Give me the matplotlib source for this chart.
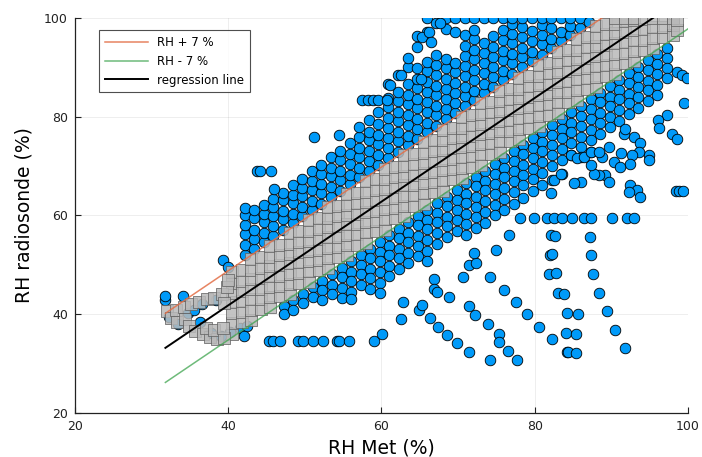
import numpy as np
import matplotlib
matplotlib.use("Agg")
import matplotlib.pyplot as plt

# regression (RH radiosonde = slope * RH Met + intercept)
reg_slope = 1.05
reg_intercept = -0.2
band = 7
line_x = np.array([31.8, 100.0])

# points inside the +/- 7 % band (grey squares), one list of y per x column
band_cols_x = [40.5, 41.8, 43.0, 44.3, 45.5, 46.8, 48.0, 49.3, 50.5, 51.8, 53.0, 54.3,
               55.5, 56.8, 58.0, 59.3, 60.5, 61.8, 63.0, 64.3, 65.5, 66.8, 68.0, 69.3,
               70.5, 71.8, 73.0, 74.3, 75.5, 76.8, 78.0, 79.3, 80.5, 81.8, 83.0, 84.3,
               85.5, 86.8, 88.0, 89.3, 90.5, 91.8, 93.0, 94.3, 95.5, 96.8, 98.0, 98.6]
band_cols_y = [
    [36.1, 38.2, 40.3, 42.4, 44.4, 46.3, 48.5],
    [38.4, 40.5, 42.6, 44.7, 46.8, 48.9],
    [38.8, 40.9, 43.0, 45.1, 47.1, 49.0, 51.2],
    [41.0, 43.1, 45.2, 47.3, 49.4, 51.5],
    [41.4, 43.5, 45.6, 47.7, 49.7, 51.6, 53.8],
    [43.6, 45.7, 47.8, 49.9, 52.0, 54.1],
    [44.0, 46.1, 48.2, 50.3, 52.3, 54.2, 56.4],
    [46.3, 48.4, 50.5, 52.6, 54.7, 56.8],
    [46.6, 48.7, 50.8, 52.9, 54.9, 56.8, 59.0],
    [48.9, 51.0, 53.1, 55.2, 57.3, 59.4],
    [49.3, 51.4, 53.5, 55.6, 57.6, 59.5, 61.7],
    [51.5, 53.6, 55.7, 57.8, 59.9, 62.0],
    [51.9, 54.0, 56.1, 58.2, 60.2, 62.1, 64.3],
    [54.1, 56.2, 58.3, 60.4, 62.5, 64.6],
    [54.5, 56.6, 58.7, 60.8, 62.8, 64.7, 66.9],
    [56.8, 58.9, 61.0, 63.1, 65.2, 67.3],
    [57.1, 59.2, 61.3, 63.4, 65.4, 67.3, 69.5],
    [59.4, 61.5, 63.6, 65.7, 67.8, 69.9],
    [59.8, 61.9, 64.0, 66.1, 68.1, 70.0, 72.2],
    [62.0, 64.1, 66.2, 68.3, 70.4, 72.5],
    [62.4, 64.5, 66.6, 68.7, 70.7, 72.6, 74.8],
    [64.7, 66.8, 68.9, 71.0, 73.1, 75.2],
    [65.0, 67.1, 69.2, 71.3, 73.3, 75.2, 77.4],
    [67.3, 69.4, 71.5, 73.6, 75.7, 77.8],
    [67.6, 69.7, 71.8, 73.9, 75.9, 77.8, 80.0],
    [69.9, 72.0, 74.1, 76.2, 78.3, 80.4],
    [70.3, 72.4, 74.5, 76.6, 78.6, 80.5, 82.7],
    [72.5, 74.6, 76.7, 78.8, 80.9, 83.0],
    [72.9, 75.0, 77.1, 79.2, 81.2, 83.1, 85.3],
    [75.1, 77.2, 79.3, 81.4, 83.5, 85.6],
    [75.5, 77.6, 79.7, 81.8, 83.8, 85.7, 87.9],
    [77.8, 79.9, 82.0, 84.1, 86.2, 88.3],
    [78.1, 80.2, 82.3, 84.4, 86.4, 88.3, 90.5],
    [80.4, 82.5, 84.6, 86.7, 88.8, 90.9],
    [80.8, 82.9, 85.0, 87.1, 89.1, 91.0, 93.2],
    [83.0, 85.1, 87.2, 89.3, 91.4, 93.5],
    [83.4, 85.5, 87.6, 89.7, 91.7, 93.6, 95.8],
    [85.7, 87.8, 89.9, 92.0, 94.1, 96.2],
    [86.0, 88.1, 90.2, 92.3, 94.3, 96.2, 98.4],
    [88.3, 90.4, 92.5, 94.6, 96.7, 98.8],
    [88.6, 90.7, 92.8, 94.9, 96.9, 98.8, 100.0],
    [90.9, 93.0, 95.1, 97.2, 99.3, 100.0],
    [91.3, 93.4, 95.5, 97.6, 99.6, 100.0],
    [93.5, 95.6, 97.7, 99.8],
    [93.9, 96.0, 98.1, 100.0],
    [96.1, 98.2, 100.0],
    [96.5, 98.6, 100.0],
    [97.6, 99.5],
]

# the loop of low values at the left end of the band
loop_squares = [(32.0, 40.6), (32.5, 39.2), (33.2, 40.9), (33.3, 38.4), (34.2, 41.4),
                (34.4, 39.0), (34.9, 37.6), (35.2, 42.0), (35.7, 36.6), (36.2, 42.5),
                (36.7, 35.9), (37.2, 43.0), (37.6, 35.3), (37.1, 37.3), (38.2, 43.3),
                (38.6, 34.9), (38.2, 36.8), (39.2, 44.0), (39.5, 35.1), (39.3, 37.2),
                (39.8, 45.6), (39.4, 42.2), (40.0, 47.0)]
loop_circles = [(32.3, 39.5), (33.5, 38.0), (34.8, 40.2), (35.5, 40.9), (36.3, 38.5),
                (37.8, 36.2), (39.0, 35.6), (40.2, 36.5), (41.5, 37.3), (42.4, 37.6),
                (42.0, 35.6), (36.6, 42.0), (38.4, 42.9)]

# dense cloud above the band
upper_cols_x = [42.2, 43.4, 44.7, 45.9, 47.1, 48.4, 49.6, 50.9, 52.1, 53.4, 54.6, 55.9,
                57.1, 58.4, 59.6, 60.9, 62.1, 63.4, 64.6, 65.9, 67.1, 68.4, 69.6, 70.9,
                72.1, 73.4, 74.6, 75.9, 77.1, 78.4, 79.6, 80.9, 82.1, 83.4, 84.6, 85.9, 87.1]
upper_cols_y = [
    [52.0, 54.1, 56.2, 58.0, 60.1, 61.5],
    [53.2, 55.3, 57.1, 59.4, 61.2],
    [54.6, 56.5, 58.6, 60.4, 62.2],
    [55.8, 57.9, 59.8, 61.7, 63.3],
    [57.1, 59.2, 61.0, 63.1, 64.6],
    [58.5, 60.4, 62.6, 64.2, 66.1],
    [59.8, 61.7, 63.9, 65.6, 67.4],
    [61.1, 63.0, 65.2, 67.0, 69.1],
    [62.4, 64.5, 66.3, 68.4, 70.2],
    [63.8, 65.7, 67.9, 69.6, 71.8],
    [65.0, 67.1, 69.0, 71.2, 73.0],
    [66.4, 68.3, 70.5, 72.4, 74.6],
    [67.7, 69.6, 71.8, 73.7, 75.9, 77.9],
    [69.0, 71.1, 73.0, 75.2, 77.0, 79.3],
    [70.3, 72.2, 74.4, 76.3, 78.5, 80.9],
    [71.6, 73.7, 75.6, 77.8, 79.7, 81.9, 83.7, 86.6],
    [72.9, 75.0, 76.9, 79.1, 81.0, 83.2, 85.1, 88.4],
    [74.3, 76.2, 78.4, 80.3, 82.5, 84.4, 86.6, 90.1, 92.0],
    [75.5, 77.6, 79.5, 81.7, 83.6, 85.8, 87.7, 89.9, 94.2, 96.4],
    [76.9, 78.8, 81.0, 82.9, 85.1, 87.0, 89.2, 91.1, 97.2, 99.9],
    [78.2, 80.3, 82.2, 84.4, 86.3, 88.5, 90.4, 92.6, 98.9],
    [79.5, 81.6, 83.5, 85.7, 87.6, 89.8, 91.7, 97.8, 100.0],
    [80.8, 82.7, 84.9, 86.8, 89.0, 90.9, 97.2, 100.0],
    [82.1, 84.2, 86.1, 88.3, 90.2, 92.4, 94.3, 96.5, 100.0],
    [83.4, 85.3, 87.5, 89.4, 91.6, 93.5, 95.7, 97.6, 100.0],
    [84.8, 86.7, 88.9, 90.8, 93.0, 94.9, 100.0],
    [86.0, 88.1, 90.0, 92.2, 94.1, 96.3, 100.0],
    [87.4, 89.3, 91.5, 93.4, 95.6, 97.5, 100.0],
    [88.7, 90.8, 92.7, 94.9, 96.8, 98.7, 100.0],
    [90.0, 92.1, 94.0, 96.2, 98.1, 100.0],
    [91.3, 93.2, 95.4, 97.3, 100.0],
    [92.6, 94.7, 96.6, 98.6, 100.0],
    [93.9, 95.8, 98.0, 100.0],
    [95.3, 97.2, 100.0],
    [96.5, 98.4, 100.0],
    [97.9, 100.0],
    [99.2],
]

# dense cloud below the band
lower_cols_x = [47.3, 48.5, 49.8, 51.0, 52.3, 53.5, 54.8, 56.0, 57.3, 58.5, 59.8, 61.0,
                62.3, 63.5, 64.8, 66.0, 67.3, 68.5, 69.8, 71.0, 72.3, 73.5, 74.8, 76.0,
                77.3, 78.5, 79.8, 81.0, 82.3, 83.5, 84.8, 86.0, 87.3, 88.5, 89.8, 91.0,
                92.3, 93.5, 94.8, 96.0, 97.2]
lower_cols_y = [
    [41.6, 40.1],
    [42.8, 40.8],
    [44.2, 42.3],
    [45.5, 43.4],
    [46.8, 44.9, 42.9],
    [48.1, 46.0, 44.0],
    [49.4, 47.5, 45.4, 43.3],
    [50.7, 48.6, 46.7, 44.6, 43.0],
    [52.1, 50.0, 48.1, 45.9],
    [53.3, 51.4, 49.2, 47.3, 45.2],
    [54.7, 52.6, 50.7, 48.5, 46.4, 44.3],
    [56.0, 53.9, 52.0, 49.8, 47.7],
    [57.3, 55.4, 53.2, 51.3, 49.1],
    [58.6, 56.5, 54.6, 52.4, 50.3],
    [59.9, 58.0, 55.8, 53.9, 51.7],
    [61.2, 59.1, 57.2, 55.0, 52.9, 50.8],
    [62.6, 60.5, 58.6, 56.4, 54.3],
    [63.8, 61.9, 59.7, 57.8, 55.6],
    [65.2, 63.1, 61.2, 59.0, 56.9],
    [66.5, 64.4, 62.5, 60.3, 58.2, 56.0],
    [67.8, 65.9, 63.7, 61.8, 59.6, 57.5],
    [69.1, 67.0, 65.1, 62.9, 60.8, 58.5],
    [70.4, 68.5, 66.3, 64.4, 62.2, 60.1],
    [71.7, 69.6, 67.7, 65.5, 63.4, 61.2],
    [73.1, 71.0, 69.1, 66.9, 64.8, 62.4],
    [74.3, 72.4, 70.2, 68.3, 66.1, 63.6],
    [75.7, 73.6, 71.7, 69.5, 67.4, 65.0],
    [77.0, 74.9, 73.0, 70.8, 68.7, 66.2],
    [78.3, 76.4, 74.2, 72.3, 70.1, 67.2],
    [79.6, 77.5, 75.6, 73.4, 71.3, 68.5],
    [80.9, 78.8, 76.9, 74.7, 72.2],
    [82.2, 80.1, 78.2, 76.0, 73.9, 71.9],
    [83.6, 81.5, 79.6, 77.4, 75.3, 72.9],
    [84.8, 82.9, 80.7, 78.8, 76.6],
    [86.2, 84.1, 82.2, 80.0, 77.9],
    [87.5, 85.4, 83.5, 81.3, 79.2],
    [88.8, 86.9, 84.7, 82.8, 80.6],
    [90.1, 88.0, 86.1, 83.9, 81.8],
    [91.4, 89.5, 87.3, 85.4, 83.2],
    [92.7, 90.6, 88.7, 86.5, 84.4],
    [94.0, 91.9, 89.9, 87.8],
]

# scattered outliers
outliers_left = [(31.8, 42.9), (31.8, 43.6), (34.1, 43.7), (39.3, 51.0), (40.0, 49.6),
                 (43.8, 69.0), (44.2, 69.0), (45.6, 69.0), (46.0, 65.3), (51.2, 75.9),
                 (54.5, 76.3), (57.5, 83.4), (58.2, 83.4), (58.9, 83.4), (59.6, 83.4),
                 (60.7, 83.4), (61.1, 86.4), (62.5, 88.4), (65.1, 87.7), (65.3, 96.2),
                 (66.2, 97.2), (66.4, 95.2), (67.7, 98.9)]
outliers_low = [(45.3, 34.6), (45.9, 34.6), (46.8, 34.6), (49.1, 34.6), (49.8, 34.6),
                (51.1, 34.6), (52.4, 34.6), (54.2, 34.6), (54.5, 34.6), (55.8, 34.6),
                (59.0, 34.6), (60.1, 36.1), (62.5, 39.0), (62.8, 42.5), (64.9, 40.9),
                (65.3, 41.9), (66.3, 39.2), (66.9, 47.1), (66.9, 45.2), (67.3, 44.6),
                (67.4, 37.5), (68.5, 35.8), (68.8, 43.4), (69.8, 34.1), (70.7, 47.5),
                (71.4, 41.7), (71.4, 32.4), (71.4, 50.0), (72.4, 50.3), (72.1, 52.4),
                (72.2, 39.8), (73.9, 38.0), (74.1, 47.6), (74.1, 30.7), (74.9, 53.1),
                (75.4, 36.1), (75.4, 34.4), (76.0, 45.0), (76.5, 32.6), (76.7, 56.0),
                (77.6, 42.5), (77.7, 30.7), (79.0, 40.0), (80.6, 37.5), (81.8, 48.1),
                (82.0, 52.1), (82.3, 52.2), (82.2, 35.0), (82.1, 56.0), (82.6, 55.9),
                (82.8, 48.3), (83.1, 44.4), (83.8, 44.1), (84.2, 40.3), (84.1, 36.3),
                (84.2, 32.4), (84.4, 32.3), (85.4, 36.1), (85.7, 40.0), (85.4, 32.1),
                (87.2, 55.7), (87.3, 51.9), (87.6, 48.1), (88.4, 44.4), (89.4, 40.6),
                (90.5, 36.8), (91.8, 33.1)]
outliers_right = [(78.1, 59.4), (79.9, 59.4), (81.6, 59.4), (82.5, 59.4), (83.6, 59.4),
                  (84.9, 59.4), (86.4, 59.4), (87.4, 59.4), (90.1, 59.4), (92.1, 59.4),
                  (93.0, 59.4), (98.6, 89.1), (99.2, 88.4), (99.9, 87.8), (99.5, 82.8),
                  (97.2, 80.3), (96.1, 79.3), (96.2, 77.8), (97.9, 76.6), (98.6, 75.4),
                  (94.9, 72.2), (94.9, 71.2), (92.9, 75.9), (93.8, 74.6), (93.6, 72.9),
                  (92.7, 72.2), (92.5, 70.5), (91.6, 76.6), (91.8, 77.6), (90.3, 70.9),
                  (91.1, 69.9), (89.7, 73.9), (88.8, 71.9), (89.2, 68.2), (88.4, 68.2),
                  (87.7, 68.4), (89.7, 66.8), (86.0, 66.8), (85.1, 66.5), (87.3, 70.2),
                  (92.5, 66.2), (93.4, 65.1), (93.8, 63.8), (92.3, 64.8), (98.4, 65.0),
                  (98.8, 65.0), (99.4, 65.0), (82.5, 67.2), (83.4, 68.5), (82.1, 64.5),
                  (84.7, 72.2), (85.5, 71.6), (86.4, 71.9), (87.3, 72.9), (88.4, 72.9),
                  (91.2, 72.6)]


def flatten(cols_x, cols_y):
    xs = [x for x, ys in zip(cols_x, cols_y) for _ in ys]
    ys = [y for col in cols_y for y in col]
    return xs, ys


bx, by = flatten(band_cols_x, band_cols_y)
ux, uy = flatten(upper_cols_x, upper_cols_y)
lx, ly = flatten(lower_cols_x, lower_cols_y)
pts = np.array(loop_circles + outliers_left + outliers_low + outliers_right)
circ_x = np.concatenate([ux, lx, pts[:, 0]])
circ_y = np.concatenate([uy, ly, pts[:, 1]])
loop = np.array(loop_squares)
sq_x = np.concatenate([bx, loop[:, 0]])
sq_y = np.concatenate([by, loop[:, 1]])

fig = plt.figure(figsize=(7.02, 4.57), dpi=100)
ax = fig.add_axes([0.1068, 0.0963, 0.8732, 0.8643])

ax.scatter(circ_x, circ_y, s=58, c='#009AF9', edgecolors='black', linewidths=0.6, zorder=2)
ax.scatter(sq_x, sq_y, s=64, marker='s', c='#b9b9b9', edgecolors='#5e5e5e',
           linewidths=0.6, alpha=0.85, zorder=3)

reg_y = reg_slope * line_x + reg_intercept
ax.plot(line_x, reg_y + band, color='#E36F47', lw=1.1, alpha=0.85, label='RH + 7 %', zorder=4)
ax.plot(line_x, reg_y - band, color='#3EA44E', lw=1.1, alpha=0.75, label='RH - 7 %', zorder=4)
ax.plot(line_x, reg_y, color='black', lw=1.4, label='regression line', zorder=5)

ax.set_xlim(20, 100)
ax.set_ylim(20, 100)
ax.set_xticks([20, 40, 60, 80, 100])
ax.set_yticks([20, 40, 60, 80, 100])
ax.grid(True, color='black', alpha=0.08, lw=0.6)
ax.set_axisbelow(True)
for side in ['top', 'right']:
    ax.spines[side].set_visible(False)
for side in ['left', 'bottom']:
    ax.spines[side].set_color('#222222')
    ax.spines[side].set_linewidth(0.9)
ax.tick_params(direction='in', length=4, width=0.8, labelsize=9, colors='#222222', pad=5)
ax.set_xlabel('RH Met (%)', fontsize=13.5, labelpad=4)
ax.set_ylabel('RH radiosonde (%)', fontsize=13.5, labelpad=8)

leg = ax.legend(loc='upper left', fontsize=8.5, frameon=True, fancybox=False,
                edgecolor='#222222', handlelength=3.6, borderpad=0.5,
                bbox_to_anchor=(0.03, 0.985))
leg.get_frame().set_linewidth(0.8)

plt.savefig('out.png', dpi=100)
